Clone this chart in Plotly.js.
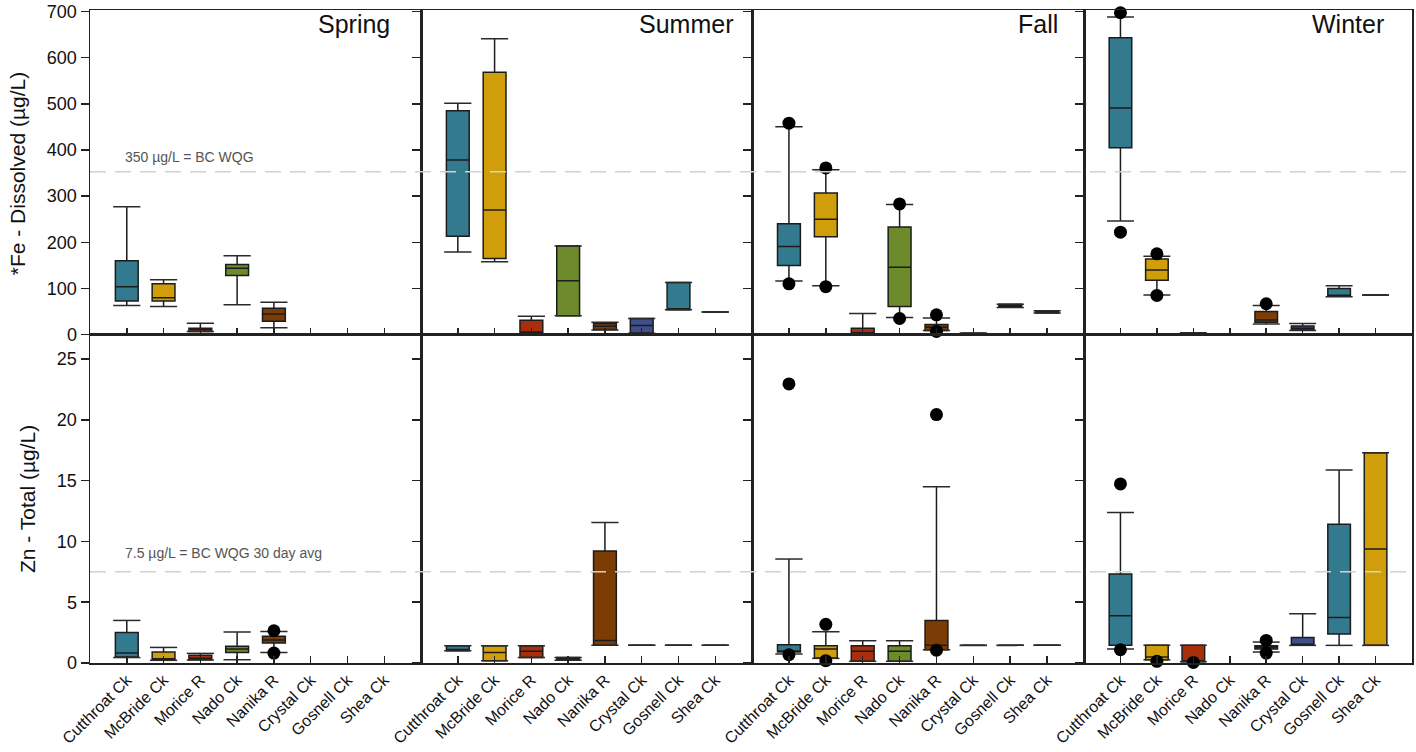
<!DOCTYPE html>
<html>
<head>
<meta charset="utf-8">
<script src="https://cdn.plot.ly/plotly-3.0.1.min.js"></script>
<style>html,body{margin:0;padding:0;background:#fff;}#chart{width:1416px;height:752px;}</style>
</head>
<body>
<div id="chart"></div>
<script>
// ---------------- DATA ----------------
const categories = ['Cutthroat Ck','McBride Ck','Morice R','Nado Ck','Nanika R','Crystal Ck','Gosnell Ck','Shea Ck'];
const seasons = ['Spring','Summer','Fall','Winter'];

// each entry: [lower whisker, Q1, median, Q3, upper whisker] (null = no data)
const feSpring = [[63,73,104,160,277],[61,73,80,110,119],[7,7,11,14,25],[65,128,144,152,171],[15,29,45,57,70],null,null,null];
const feSummer = [[179,213,378,485,501],[158,165,270,568,641],[2,3,6,31,40],[41,41,117,192,192],[10,11,18,24,27],[3,3.5,20,35,35],[54,54,55,113,113],[49,49,49,49,49]];
const feFall   = [[116,150,191,240,450],[106,212,250,307,357],[2,2,4,14,46],[37,61,146,233,282],[9,9,16,22,36],[3,3,3,3,3],[59,60,63,66,66],[47,47,49,52,52]];
const feWinter = [[246,405,491,643,688],[86,118,140,164,170],[2,2,3,4,4],null,[23,27,32,50,63],[9,10,14,19,24],[82,83,84,100,106],[86,86,86,86,86]];

const znSpring = [[0.45,0.49,0.82,2.5,3.5],[0.22,0.22,0.35,0.9,1.28],[0.25,0.27,0.4,0.63,0.79],[0.27,0.87,1.15,1.37,2.55],[0.87,1.64,1.9,2.19,2.6],null,null,null];
const znSummer = [[1.0,1.0,1.1,1.42,1.42],[0.19,0.19,0.87,1.42,1.42],[0.46,0.46,0.96,1.42,1.42],[0.22,0.22,0.35,0.46,0.46],[1.45,1.45,1.86,9.2,11.55],[1.45,1.45,1.45,1.45,1.45],[1.45,1.45,1.45,1.45,1.45],[1.45,1.45,1.45,1.45,1.45]];
const znFall   = [[0.74,0.9,0.95,1.5,8.55],[0.38,0.41,1.15,1.42,2.57],[0.14,0.14,0.96,1.42,1.83],[0.14,0.14,0.96,1.42,1.83],[1.09,1.09,1.45,3.5,14.49],[1.45,1.45,1.45,1.45,1.45],[1.45,1.45,1.45,1.45,1.45],[1.45,1.45,1.45,1.45,1.45]];
const znWinter = [[1.15,1.45,3.89,7.31,12.38],[0.27,0.27,0.49,1.45,1.45],[0.1,0.1,0.14,1.45,1.45],null,[0.9,1.15,1.3,1.42,1.72],[1.45,1.45,1.45,2.1,4.05],[1.45,2.38,3.75,11.42,15.88],[1.45,1.45,9.37,17.28,17.28]];

// outliers: [category index, value]
const feSpringOut = [];
const feSummerOut = [];
const feFallOut   = [[0,458],[0,110],[1,361],[1,104],[3,283],[3,35],[4,43],[4,7]];
const feWinterOut = [[0,697],[0,222],[1,175],[1,85],[4,67]];
const znSpringOut = [[4,2.65],[4,0.82]];
const znSummerOut = [];
const znFallOut   = [[0,22.95],[0,0.68],[1,3.18],[1,0.19],[4,20.43],[4,1.05]];
const znWinterOut = [[0,14.73],[0,1.09],[1,0.14],[2,0.05],[4,1.86],[4,0.82]];

const feGuideline = 353;   // 350 µg/L line as drawn
const znGuideline = 7.5;
const feTicks = [0,100,200,300,400,500,600,700];
const znTicks = [0,5,10,15,20,25];

// ---------------- STYLE ----------------
const colors = ['#337A8E','#D09E0B','#A92F0A','#6E8B2B','#7B3C06','#3F4F88','#337A8E','#D09E0B'];
const FONT = 'Arial, "Liberation Sans", sans-serif';
const xDomains = [[0,0.2504],[0.2504,0.5008],[0.5008,0.7519],[0.7519,1]];
const yDomains = [[0.5028,1],[0,0.5028]];
const boxW = 0.62, capHalf = 0.37;

const panels = [
  [feSpring,feSpringOut],[feSummer,feSummerOut],[feFall,feFallOut],[feWinter,feWinterOut],
  [znSpring,znSpringOut],[znSummer,znSummerOut],[znFall,znFallOut],[znWinter,znWinterOut]
];

const traces = [];
const layout = {
  width:1416, height:752,
  margin:{l:90,r:4,t:10,b:89},
  paper_bgcolor:'#fff', plot_bgcolor:'#fff',
  font:{family:FONT, color:'#111', size:16},
  showlegend:false,
  boxmode:'overlay',
  annotations:[], shapes:[]
};

panels.forEach((pd,k)=>{
  const s = k===0 ? '' : String(k+1);
  const xa = 'x'+s, ya = 'y'+s;
  const row = k<4 ? 0 : 1, col = k%4;
  const stats = pd[0], outs = pd[1];
  stats.forEach((st,i)=>{
    if(!st) return;
    traces.push({
      type:'box', x:[i], lowerfence:[st[0]], q1:[st[1]], median:[st[2]], q3:[st[3]], upperfence:[st[4]],
      width:boxW, fillcolor:colors[i], line:{color:'#1c1c1c',width:1.5},
      whiskerwidth:0, boxpoints:false, hoverinfo:'skip', showlegend:false,
      xaxis:xa, yaxis:ya
    });
  });
  // whisker caps
  const cx=[], cy=[];
  stats.forEach((st,i)=>{
    if(!st) return;
    cx.push(i-capHalf,i+capHalf,null,i-capHalf,i+capHalf,null);
    cy.push(st[0],st[0],null,st[4],st[4],null);
  });
  traces.push({type:'scatter',mode:'lines',x:cx,y:cy,line:{color:'#2a2a2a',width:1.5},
    hoverinfo:'skip',showlegend:false,xaxis:xa,yaxis:ya,cliponaxis:false});
  if(outs.length){
    traces.push({type:'scatter',mode:'markers',x:outs.map(o=>o[0]),y:outs.map(o=>o[1]),
      marker:{color:'#000',size:13,line:{width:0}},hoverinfo:'skip',showlegend:false,
      xaxis:xa,yaxis:ya,cliponaxis:false});
  }
  layout['xaxis'+s] = {
    domain:xDomains[col], anchor:ya, range:[-1,8],
    tickmode:'array', tickvals:categories.map((c,i)=>i), ticktext:categories,
    showticklabels: row===1, tickangle:-45, tickfont:{size:16,color:'#111',family:FONT},
    ticks:'inside', ticklen:7, tickwidth:1.5, tickcolor:'#222',
    showline:true, mirror:true, linecolor:'#222', linewidth:1.5,
    showgrid:false, zeroline:false, fixedrange:true
  };
  layout['yaxis'+s] = {
    domain:yDomains[row], anchor:xa,
    range: row===0 ? [0,703] : [0,27],
    tickmode:'array', tickvals: row===0 ? feTicks : znTicks,
    showticklabels: col===0, tickfont:{size:18,color:'#111',family:FONT},
    ticklabeloverflow:'allow',
    ticks:'outside', ticklen:8, tickwidth:1.5, tickcolor:'#222',
    showline:true, mirror:true, linecolor:'#222', linewidth:1.5,
    showgrid:false, zeroline:false, fixedrange:true
  };
  if(row===0){
    const xs = [-29,-17,-24,-26][col];
    layout.annotations.push({text:seasons[col], xref:xa+' domain', yref:ya+' domain', x:1, y:1,
      xanchor:'right', yanchor:'top', xshift:xs, yshift:2, showarrow:false,
      font:{size:25,color:'#111',family:FONT}});
  }
});

// guideline dashed lines
layout.shapes.push({type:'line',xref:'paper',x0:0,x1:1,yref:'y',y0:feGuideline,y1:feGuideline,
  line:{color:'#d2d2d2',width:1.5,dash:'16px,9px'},layer:'above'});
layout.shapes.push({type:'line',xref:'paper',x0:0,x1:1,yref:'y5',y0:znGuideline,y1:znGuideline,
  line:{color:'#d2d2d2',width:1.5,dash:'16px,9px'},layer:'above'});

layout.annotations.push({text:'350 µg/L = BC WQG', xref:'x domain', yref:'y', x:0.1, y:feGuideline,
  xanchor:'left', yanchor:'bottom', yshift:5, showarrow:false, font:{size:14,color:'#555',family:FONT}});
layout.annotations.push({text:'7.5 µg/L = BC WQG 30 day avg', xref:'x5 domain', yref:'y5', x:0.1, y:znGuideline,
  xanchor:'left', yanchor:'bottom', yshift:9, showarrow:false, font:{size:14,color:'#555',family:FONT}});

// y-axis titles
layout.annotations.push({text:'*Fe - Dissolved (µg/L)', xref:'paper', yref:'paper', x:-0.0552, y:0.75,
  xanchor:'center', yanchor:'middle', textangle:-90, showarrow:false, font:{size:21,color:'#111',family:FONT}});
layout.annotations.push({text:'Zn - Total (µg/L)', xref:'paper', yref:'paper', x:-0.0477, y:0.251,
  xanchor:'center', yanchor:'middle', textangle:-90, showarrow:false, font:{size:21,color:'#111',family:FONT}});

Plotly.newPlot('chart', traces, layout, {staticPlot:true, displayModeBar:false});
</script>
</body>
</html>
